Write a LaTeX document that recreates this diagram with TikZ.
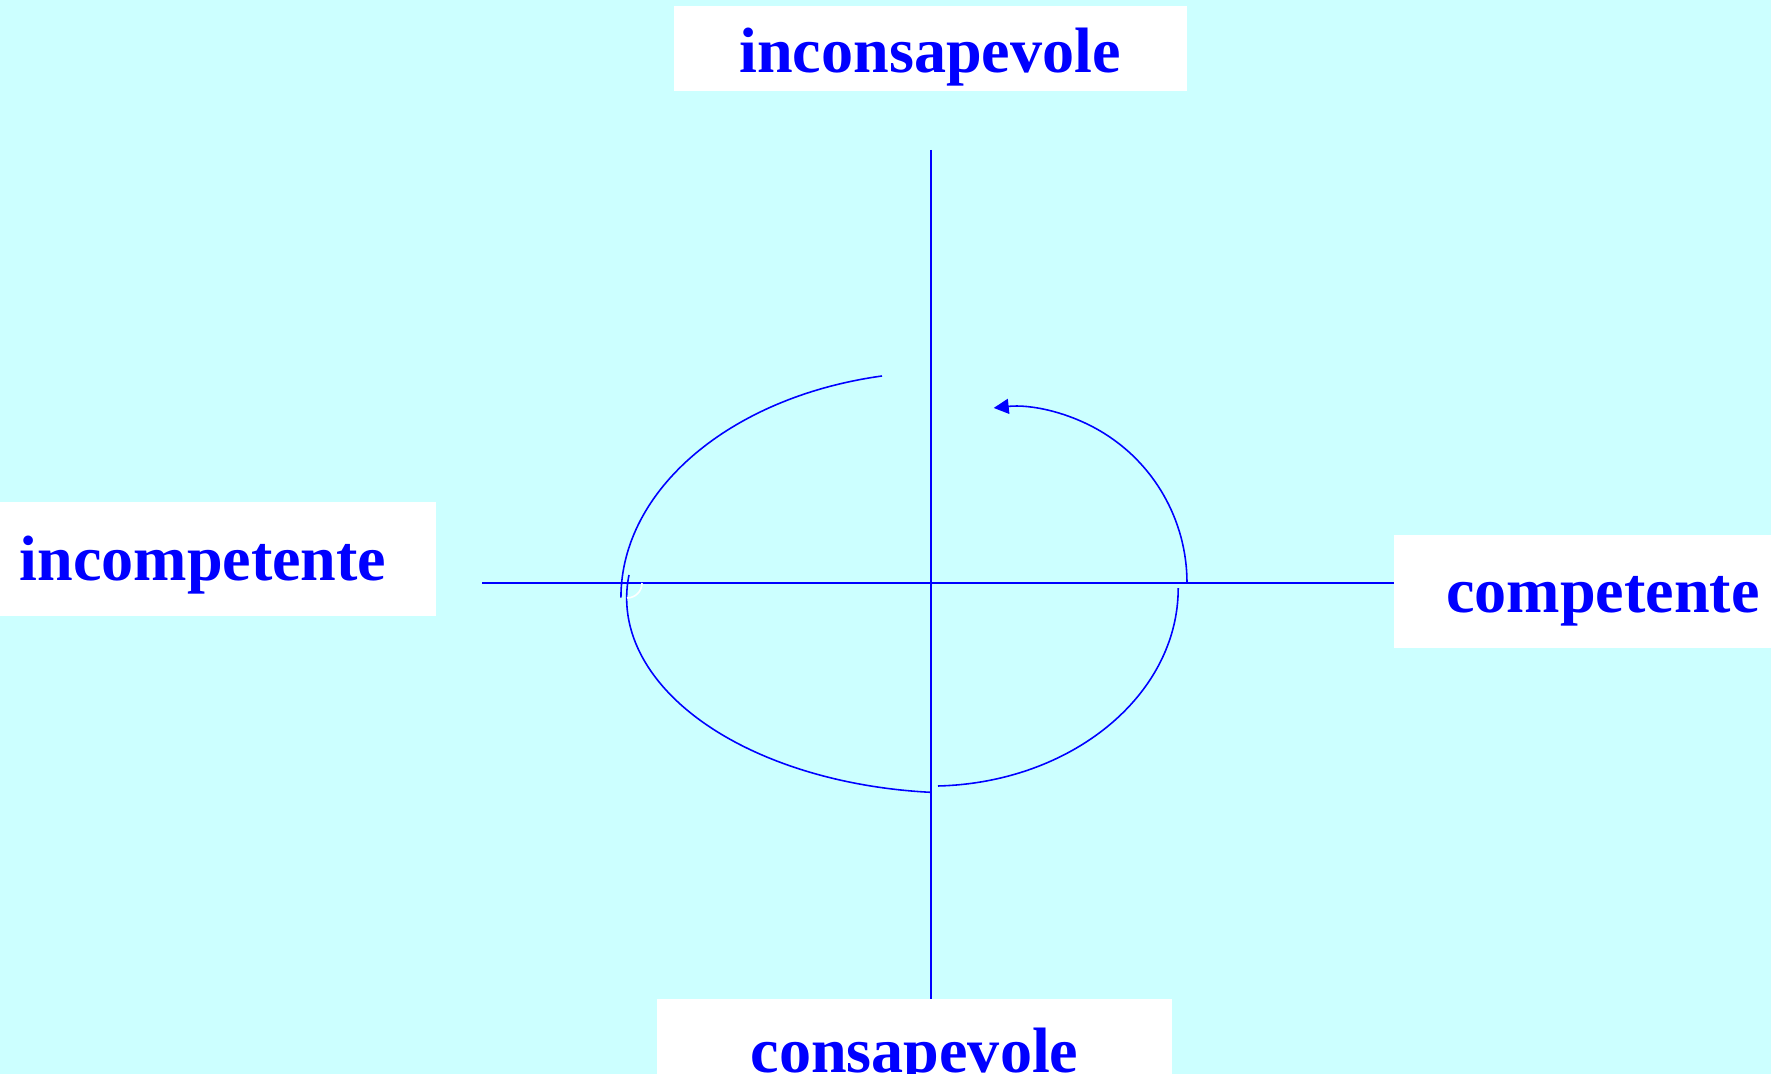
\documentclass[tikz,border=0pt]{standalone}
\usepackage{fontspec}
\setmainfont{Liberation Serif}
\usetikzlibrary{arrows.meta}
\definecolor{bgcyan}{RGB}{204,255,255}
\definecolor{ink}{RGB}{0,0,255}

\begin{document}
\begin{tikzpicture}[
    x=0.02cm, y=0.02cm,
    lbl/.style={fill=white, inner sep=0pt},
    word/.style={anchor=base, inner sep=0pt, text=ink, font=\fontsize{36.5}{40}\selectfont\bfseries},
    axis/.style={draw=ink, line width=0.9pt},
    loop/.style={draw=ink, line width=0.9pt},
    tip/.style={-{Triangle[length=0.3cm, width=0.3cm]}}
]
\useasboundingbox (0,0) rectangle (1771,1074);
\fill[bgcyan] (0,0) rectangle (1771,1074);

% label boxes
\node[lbl, minimum width=10.26cm, minimum height=1.7cm] (top) at (930.5,1025.5) {};
\node[lbl, minimum width=10.3cm, minimum height=1.8cm] (bot) at (914.7,30) {};
\node[lbl, minimum width=8.92cm, minimum height=2.28cm] (lft) at (213,515) {};
\node[lbl, minimum width=7.72cm, minimum height=2.26cm] (rgt) at (1587,482.5) {};

\node[word] (wtop) at (930,1001) {inconsapevole};
\node[word] (wbot) at (914.5,1.5) {consapevole};
\node[word] (wlft) at (203,493) {incompetente};
\node[word] (wrgt) at (1603,461) {competente};

% axes
\coordinate (ytop) at (931,924);
\coordinate (xlft) at (482,491);
\draw[axis] (ytop) -- (ytop |- bot.north);
\draw[axis] (xlft) -- (xlft -| rgt.west);

% the loop
\draw[loop] (882,698) arc[start angle=101.2, end angle=180, x radius=324, y radius=226];
\draw[loop] (629,499) arc[start angle=173.2, end angle=265.2, x radius=333, y radius=195];
\draw[loop] (938,288) arc[start angle=-88.2, end angle=0, x radius=248, y radius=198];
\draw[loop, tip] (1187,491) arc[start angle=0, end angle=96, x radius=175, y radius=176];
\draw[white, line width=0.9pt] (642,491) arc[start angle=0, end angle=-90, radius=15];

\end{tikzpicture}
\end{document}
